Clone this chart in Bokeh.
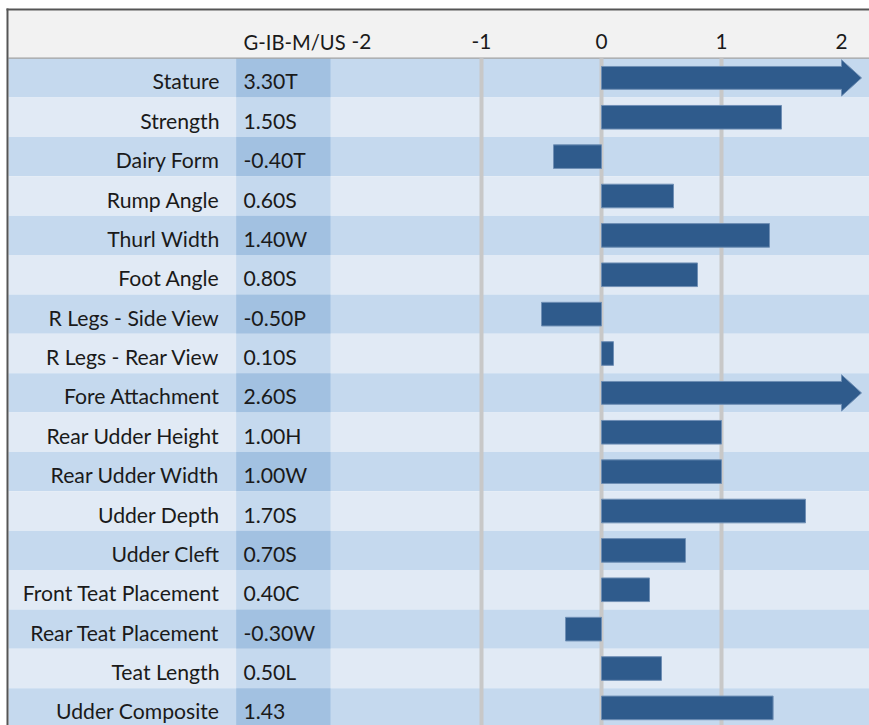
from bokeh.plotting import figure
from bokeh.models import Range1d
from bokeh.core.properties import value
from bokeh.embed import file_html
from bokeh.resources import INLINE

categories = ["Stature", "Strength", "Dairy Form", "Rump Angle", "Thurl Width",
              "Foot Angle", "R Legs - Side View", "R Legs - Rear View",
              "Fore Attachment", "Rear Udder Height", "Rear Udder Width",
              "Udder Depth", "Udder Cleft", "Front Teat Placement",
              "Rear Teat Placement", "Teat Length", "Udder Composite"]
values = [3.30, 1.50, -0.40, 0.60, 1.40, 0.80, -0.50, 0.10, 2.60, 1.00, 1.00,
          1.70, 0.70, 0.40, -0.30, 0.50, 1.43]
value_labels = ["3.30T", "1.50S", "-0.40T", "0.60S", "1.40W", "0.80S", "-0.50P",
                "0.10S", "2.60S", "1.00H", "1.00W", "1.70S", "0.70S", "0.40C",
                "-0.30W", "0.50L", "1.43"]
column_title = "G-IB-M/US"
tick_values = [-2, -1, 0, 1, 2]
tick_labels = ["-2", "-1", "0", "1", "2"]
grid_values = [-1, 0, 1]
axis_max = 2.0

W, H = 869, 725
PX_X = 120.0    # px per unit
PX_Y = 39.375   # px per row
X0 = 601.0      # pixel of value 0
Y0 = 77.4       # pixel of first row centre
xs0 = -X0 / PX_X
xe0 = xs0 + W / PX_X
ys0 = -Y0 / PX_Y
ye0 = ys0 + H / PX_Y


def px_x(px):
    return (px - X0) / PX_X


def px_y(py):
    return (py - Y0) / PX_Y


p = figure(width=W, height=H, output_backend="svg", toolbar_location=None,
           x_range=Range1d(xs0, xe0), y_range=Range1d(ye0, ys0),
           min_border=0, min_border_left=0, min_border_right=0,
           min_border_top=0, min_border_bottom=0)
p.axis.visible = False
p.xgrid.visible = False
p.ygrid.visible = False
p.outline_line_color = None
p.outline_line_alpha = 0
p.background_fill_color = "white"
p.border_fill_color = "white"

FONT = "Lato"
n = len(categories)
rows = list(range(n))
left_edge = px_x(8)
right_edge = xe0 + 0.1

# header band
p.quad(left=[left_edge], right=[right_edge], top=[px_y(10)], bottom=[-0.5],
       fill_color="#f2f2f2", line_color=None)

# row bands
band_colors = ["#c5d9ee" if i % 2 == 0 else "#e1eaf5" for i in rows]
col_colors = ["#a2c1e1" if i % 2 == 0 else "#c5d9ee" for i in rows]
p.quad(left=[left_edge] * n, right=[right_edge] * n, top=[i - 0.5 for i in rows],
       bottom=[i + 0.5 for i in rows], fill_color=band_colors, line_color=None)
p.quad(left=[px_x(235.7)] * n, right=[px_x(330.0)] * n, top=[i - 0.5 for i in rows],
       bottom=[i + 0.5 for i in rows], fill_color=col_colors, line_color=None)

# header bottom line
p.segment(x0=[left_edge], x1=[right_edge], y0=[-0.5], y1=[-0.5], line_color="#a0a0a0", line_width=1.2)

# gridlines
p.segment(x0=grid_values, x1=grid_values, y0=[-0.5] * len(grid_values),
          y1=[ye0 + 0.1] * len(grid_values), line_color="#c8c8c8", line_width=4)

# bars
bar_half = 0.3
normal = [(i, v) for i, v in zip(rows, values) if v <= axis_max]
p.quad(left=[min(0, v) for i, v in normal], right=[max(0, v) for i, v in normal],
       top=[i - bar_half for i, v in normal], bottom=[i + bar_half for i, v in normal],
       fill_color="#2f5b8c", line_color="#6f8fb5", line_width=1)

head_len = 20.0 / PX_X
arrows = [(i, v) for i, v in zip(rows, values) if v > axis_max]
axs, ays = [], []
for i, v in arrows:
    axs.append([0, axis_max, axis_max, axis_max + head_len, axis_max, axis_max, 0])
    ays.append([i - 0.29, i - 0.29, i - 0.46, i, i + 0.46, i + 0.29, i + 0.29])
p.patches(xs=axs, ys=ays, fill_color="#2f5b8c", line_color="#6f8fb5", line_width=1)

# category and value labels
base_off = 3.5 / PX_Y
p.text(x=[px_x(219)] * n, y=[i + base_off for i in rows], text=categories,
       text_align="right", text_baseline="alphabetic", text_font=value(FONT),
       text_font_size="21.2px", text_color="#1a1a1a")
p.text(x=[px_x(243)] * n, y=[i + base_off for i in rows], text=value_labels,
       text_align="left", text_baseline="alphabetic", text_font=value(FONT),
       text_font_size="21.2px", text_color="#1a1a1a")

# header texts
hdr_y = px_y(41.0)
p.text(x=[px_x(243)], y=[hdr_y], text=[column_title], text_align="left",
       text_baseline="alphabetic", text_font=value(FONT), text_font_size="20.2px",
       text_color="#1a1a1a")
p.text(x=tick_values, y=[hdr_y] * len(tick_values), text=tick_labels, text_align="center",
       text_baseline="alphabetic", text_font=value(FONT), text_font_size="20.8px",
       text_color="#1a1a1a")

# border (top and left)
p.segment(x0=[px_x(7)], x1=[px_x(7)], y0=[px_y(8)], y1=[ye0 + 0.1],
          line_color="#555555", line_width=2)
p.segment(x0=[px_x(6)], x1=[right_edge], y0=[px_y(9)], y1=[px_y(9)],
          line_color="#555555", line_width=2)

open("out.html", "w").write(file_html(p, INLINE))
